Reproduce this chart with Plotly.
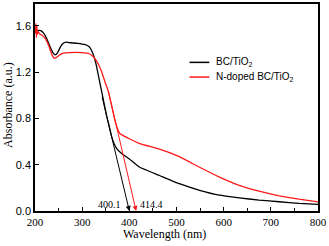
import plotly.graph_objects as go

# ---- data ----
wl_bc = [200, 205, 212, 218, 225, 232, 238, 243, 248, 254, 260, 266, 275, 290, 305, 315, 322, 330, 338,
         345, 352, 358, 362, 368, 375, 383, 400, 422, 464, 506, 549, 591, 633, 675, 718, 760, 800]
abs_bc = [1.55, 1.56, 1.56, 1.54, 1.49, 1.42, 1.37, 1.35, 1.37, 1.42, 1.45, 1.46, 1.455, 1.45, 1.44, 1.42, 1.37, 1.26, 1.10,
          0.96, 0.82, 0.72, 0.65, 0.58, 0.53, 0.50, 0.45, 0.378, 0.307, 0.236, 0.179, 0.137, 0.114, 0.094, 0.080, 0.066, 0.057]

wl_n = [200, 201, 202, 203, 204, 205, 207, 210, 215, 222, 230, 236, 241, 246, 252, 260, 270, 300, 315, 322,
        330, 340, 348, 355, 362, 368, 374, 380, 390, 400, 422, 464, 506, 549, 591, 633, 675, 718, 760, 800]
abs_n = [1.55, 1.54, 1.62, 1.50, 1.60, 1.53, 1.55, 1.53, 1.52, 1.49, 1.42, 1.35, 1.32, 1.33, 1.35, 1.365, 1.37, 1.37, 1.36, 1.34,
         1.30, 1.22, 1.12, 1.04, 0.92, 0.81, 0.72, 0.67, 0.645, 0.625, 0.583, 0.535, 0.47, 0.378, 0.293, 0.222, 0.171, 0.131, 0.102, 0.079]

# tangent lines (start point, x-intercept = band edge)
edge_bc = 400.1
edge_n = 414.4
tan_start_bc = (341.5, 1.0)
tan_start_n = (354.7, 1.05)

x_ticks = [200, 300, 400, 500, 600, 700, 800]
y_ticks = [0.0, 0.4, 0.8, 1.2, 1.6]

BLACK = "black"
RED = "#ff1a1a"
SERIF = "Liberation Serif, Times New Roman, serif"
SANS = "Liberation Sans, Arial, sans-serif"

fig = go.Figure()
fig.add_trace(go.Scatter(x=wl_bc, y=abs_bc, mode="lines", name="BC/TiO<sub>2</sub>",
                         line=dict(color=BLACK, width=1.3, shape="spline", smoothing=0.3)))
fig.add_trace(go.Scatter(x=wl_n, y=abs_n, mode="lines", name="N-doped BC/TiO<sub>2</sub>",
                         line=dict(color=RED, width=1.3, shape="spline", smoothing=0.3)))

# tangent arrows
for (sx, sy), edge, col in [(tan_start_bc, edge_bc, BLACK), (tan_start_n, edge_n, RED)]:
    fig.add_annotation(x=edge, y=0, ax=sx, ay=sy, xref="x", yref="y", axref="x", ayref="y",
                       text="", showarrow=True, arrowhead=2, arrowsize=1, arrowwidth=1,
                       arrowcolor=col, standoff=0)

fig.add_annotation(x=edge_bc - 14, y=0.055, xref="x", yref="y", text=f"{edge_bc}", showarrow=False,
                   xanchor="right", yanchor="middle", font=dict(family=SERIF, size=10, color="black"))
fig.add_annotation(x=edge_n + 3, y=0.055, xref="x", yref="y", text=f"{edge_n}", showarrow=False,
                   xanchor="left", yanchor="middle", font=dict(family=SERIF, size=10, color="black"))

# axis titles
fig.add_annotation(x=0.456, y=-0.112, xref="paper", yref="paper", text="Wavelength (nm)", showarrow=False,
                   xanchor="center", yanchor="middle", font=dict(family=SERIF, size=12, color="black"))
fig.add_annotation(x=-0.095, y=0.513, xref="paper", yref="paper", text="Absorbance (a.u.)", showarrow=False,
                   textangle=-90, xanchor="center", yanchor="middle",
                   font=dict(family=SERIF, size=12, color="black"))

# legend (drawn manually for compact spacing)
legend_items = [("BC/TiO<sub>2</sub>", BLACK, 0.718), ("N-doped BC/TiO<sub>2</sub>", RED, 0.647)]
for label, col, ly in legend_items:
    fig.add_shape(type="line", xref="paper", yref="paper", x0=0.546, x1=0.616, y0=ly, y1=ly,
                  line=dict(color=col, width=1.5))
    fig.add_annotation(x=0.634, y=ly, xref="paper", yref="paper", text=label, showarrow=False,
                       xanchor="left", yanchor="middle", font=dict(family=SANS, size=10, color="black"))

fig.update_xaxes(range=[200, 800], tickvals=x_ticks, ticktext=[str(v) for v in x_ticks],
                 ticks="inside", ticklen=4, tickwidth=1, tickcolor="black",
                 minor=dict(dtick=50, ticks="inside", ticklen=3, tickcolor="black"),
                 showline=True, linecolor="black", linewidth=1.5, mirror=True,
                 showgrid=False, zeroline=False,
                 tickfont=dict(family=SERIF, size=11, color="black"))
fig.update_yaxes(range=[0, 1.79], tickvals=y_ticks, ticktext=[f"{v:.1f}" for v in y_ticks],
                 ticks="inside", ticklen=4, tickwidth=1, tickcolor="black",
                 showline=True, linecolor="black", linewidth=1.5, mirror=True,
                 showgrid=False, zeroline=False,
                 tickfont=dict(family=SANS, size=11, color="black"))

fig.update_layout(
    width=329, height=246,
    margin=dict(l=35, r=10, t=2, b=35),
    paper_bgcolor="white", plot_bgcolor="white",
    showlegend=False,
)

fig.write_html("out.html", config={"displayModeBar": False},
               post_script="document.body.style.margin='0';")
